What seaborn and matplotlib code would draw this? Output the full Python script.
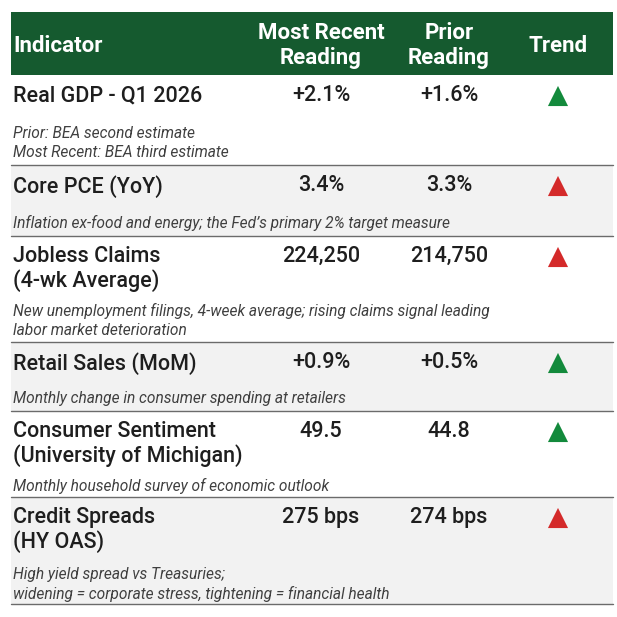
import pandas as pd
import matplotlib.pyplot as plt
import seaborn as sns

# table content
indicators = [
    "Real GDP - Q1 2026",
    "Core PCE (YoY)",
    "Jobless Claims\n(4-wk Average)",
    "Retail Sales (MoM)",
    "Consumer Sentiment\n(University of Michigan)",
    "Credit Spreads\n(HY OAS)",
]
most_recent = ["+2.1%", "3.4%", "224,250", "+0.9%", "49.5", "275 bps"]
prior = ["+1.6%", "3.3%", "214,750", "+0.5%", "44.8", "274 bps"]
signal = ["good", "bad", "bad", "good", "good", "bad"]
notes = [
    "Prior: BEA second estimate\nMost Recent: BEA third estimate",
    "Inflation ex-food and energy; the Fed\u2019s primary 2% target measure",
    "New unemployment filings, 4-week average; rising claims signal leading\nlabor market deterioration",
    "Monthly change in consumer spending at retailers",
    "Monthly household survey of economic outlook",
    "High yield spread vs Treasuries;\nwidening = corporate stress, tightening = financial health",
]
headers = ["Indicator", "Most Recent\nReading", "Prior\nReading", "Trend"]

# layout (pixels)
W = 617
LEFT, RIGHT = 11, 613
HEAD_TOP, HEAD_BOT = 12, 75
ROW_EDGES = [75, 165, 236, 342, 411, 497, 604]
NOTE_OFF = [5, 5, 4, 5, 3, 2]
COL_X = [13, 321, 449, 558]
GREEN_HEAD = "#155a2f"
TREND_COLORS = {"good": "#138a3c", "bad": "#d42a2a"}


def main():
    sns.set_theme(style="white")
    plt.rcParams["font.family"] = ["Roboto", "DejaVu Sans"]

    fig = plt.figure(figsize=(6.17, 6.17), dpi=100)
    ax = fig.add_axes([0, 0, 1, 1])

    # header band
    ax.add_patch(plt.Rectangle((LEFT, HEAD_TOP), RIGHT - LEFT, HEAD_BOT - HEAD_TOP,
                               color=GREEN_HEAD, lw=0))
    hy = (HEAD_TOP + HEAD_BOT) / 2 + 2
    for i, h in enumerate(headers):
        ax.text(COL_X[i], hy, h, color="white", fontsize=16, fontweight="bold",
                ha="left" if i == 0 else "center", va="center", linespacing=1.2)

    title_y = []
    for r in range(len(indicators)):
        top, bot = ROW_EDGES[r], ROW_EDGES[r + 1]
        if r % 2 == 1:
            ax.add_patch(plt.Rectangle((LEFT, top), RIGHT - LEFT, bot - top,
                                       color="#f2f2f2", lw=0, zorder=0))
        ax.plot([LEFT, RIGHT], [bot, bot], color="#6b6b6b", lw=1.0)
        ty = top + 21
        title_y.append(ty)
        ax.text(COL_X[0], ty - 11, indicators[r], fontsize=15.5, fontweight="medium",
                color="#1e1e1e", ha="left", va="top", linespacing=1.15)
        ax.text(COL_X[1], ty - 11, most_recent[r], fontsize=15.5, fontweight="medium",
                color="#1e1e1e", ha="center", va="top")
        ax.text(COL_X[2], ty - 11, prior[r], fontsize=15.5, fontweight="medium",
                color="#1e1e1e", ha="center", va="top")
        ax.text(COL_X[0], bot - NOTE_OFF[r], notes[r], fontsize=11.2,
                fontstyle="italic", color="#404040", ha="left", va="bottom",
                linespacing=1.32)

    trend = pd.DataFrame({"x": [COL_X[3]] * len(signal), "y": title_y, "signal": signal})
    sns.scatterplot(data=trend, x="x", y="y", hue="signal", palette=TREND_COLORS,
                    marker="^", s=210, linewidth=0, legend=False, ax=ax, zorder=3)
    ax.set_xlim(0, W)
    ax.set_ylim(W, 0)
    ax.axis("off")

    fig.savefig("out.png", dpi=100, facecolor="white")
    plt.close(fig)


if __name__ == "__main__":
    main()
